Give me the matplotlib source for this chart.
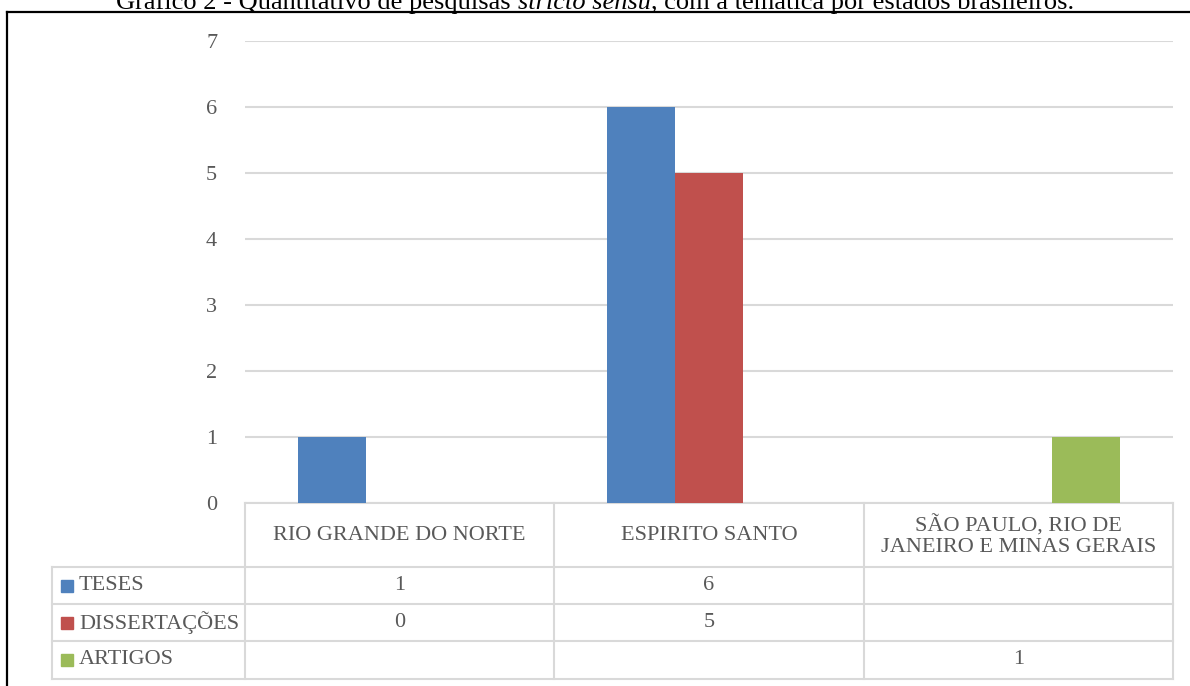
import matplotlib

matplotlib.use("Agg")
import matplotlib.pyplot as plt
import matplotlib.transforms as mtransforms
from matplotlib.patches import Rectangle
from matplotlib.lines import Line2D

CATS = ["RIO GRANDE DO NORTE", "ESPIRITO SANTO", "SÃO PAULO, RIO DE\nJANEIRO E MINAS GERAIS"]
SERIES = ["TESES", "DISSERTAÇÕES", "ARTIGOS"]
TESES = [1, 6, None]
DISSERTACOES = [0, 5, None]
ARTIGOS = [None, None, 1]
COLORS = ["#4F81BD", "#C0504D", "#9BBB59"]
YTICKS = list(range(0, 8))

W, H = 1190, 686
FONT = "Liberation Serif"
TXT = "#595959"
GRID = "#D9D9D9"
FS = 16

fig = plt.figure(figsize=(W / 100, H / 100), dpi=100)

# axes area in pixels: x 245..1173, y 41 (=7) .. 503 (=0)
AXL, AXR = 245, 1173
CW = (AXR - AXL) / 3
ax = fig.add_axes([AXL / W, (H - 503) / H, (AXR - AXL) / W, 462 / H])
ax.set_xlim(-0.5, 2.5)
ax.set_ylim(0, 7)
for s in ax.spines.values():
    s.set_visible(False)
ax.set_yticks(YTICKS)
ax.set_yticklabels([str(t) for t in YTICKS], fontfamily=FONT, fontsize=FS, color=TXT)
ax.tick_params(axis="y", length=0, pad=20)
ax.set_xticks([])
ax.grid(axis="y", color=GRID, linewidth=1.5)
ax.set_axisbelow(True)

bw = 68 / CW
data = [TESES, DISSERTACOES, ARTIGOS]
for k, (vals, col) in enumerate(zip(data, COLORS)):
    xs = [i + (k - 1) * bw for i, v in enumerate(vals) if v]
    hs = [v for v in vals if v]
    ax.bar(xs, hs, width=bw, color=col, zorder=3)

# data table under the plot: x in data units, y in axes fraction
tr = mtransforms.blended_transform_factory(ax.transData, ax.transAxes)


def ay(py):
    return (503 - py) / 462


def axx(px_):
    return -0.5 + (px_ - AXL) / CW


rows_y = [503, 567, 604, 641, 679]
left = axx(52)
kw = dict(transform=tr, color=GRID, linewidth=1.5, clip_on=False)
ax.add_line(Line2D([-0.5, 2.5], [ay(503)] * 2, **kw))
for py in rows_y[1:]:
    ax.add_line(Line2D([left, 2.5], [ay(py)] * 2, **kw))
for xb in [-0.5, 0.5, 1.5, 2.5]:
    ax.add_line(Line2D([xb, xb], [ay(503), ay(679)], **kw))
ax.add_line(Line2D([left, left], [ay(567), ay(679)], **kw))

tkw = dict(transform=tr, fontfamily=FONT, fontsize=FS, color=TXT,
           ha="center", va="center", clip_on=False)
for i, c in enumerate(CATS):
    ax.text(i, ay(536), c, linespacing=1.1, **tkw)
for r, (name, vals, col) in enumerate(zip(SERIES, data, COLORS)):
    yc = ay((rows_y[r + 1] + rows_y[r + 2]) / 2)
    for i, v in enumerate(vals):
        if v is not None:
            ax.text(i, yc, str(v), **tkw)
    ax.add_patch(Rectangle((axx(61), yc - 6 / 462), 12 / CW, 12 / 462,
                           transform=tr, color=col, clip_on=False))
    ax.text(axx(79), yc, name, transform=tr, fontfamily=FONT, fontsize=FS,
            color=TXT, ha="left", va="center", clip_on=False)

# outer frame: only top and left edges fall inside the image
fig.add_artist(Line2D([7 / W, 1], [1 - 12 / H] * 2, transform=fig.transFigure,
                      color="black", linewidth=1.6))
fig.add_artist(Line2D([7 / W] * 2, [0, 1 - 12 / H], transform=fig.transFigure,
                      color="black", linewidth=1.6))

# title (partly cut off at the top)
parts = [("Gráfico 2 - Quantitativo de pesquisas ", "normal"),
         ("stricto sensu", "italic"),
         (", com a temática por estados brasileiros.", "normal")]
renderer = fig.canvas.get_renderer()
texts = []
for s, st in parts:
    t = fig.text(0, 0, s, fontfamily=FONT, fontsize=19, style=st, color="black",
                 va="baseline", ha="left")
    texts.append(t)
widths = [t.get_window_extent(renderer).width for t in texts]
xstart = (W - sum(widths)) / 2
for t, w in zip(texts, widths):
    t.set_position((xstart / W, 1 - 9 / H))
    xstart += w

fig.savefig("out.png", dpi=100)
